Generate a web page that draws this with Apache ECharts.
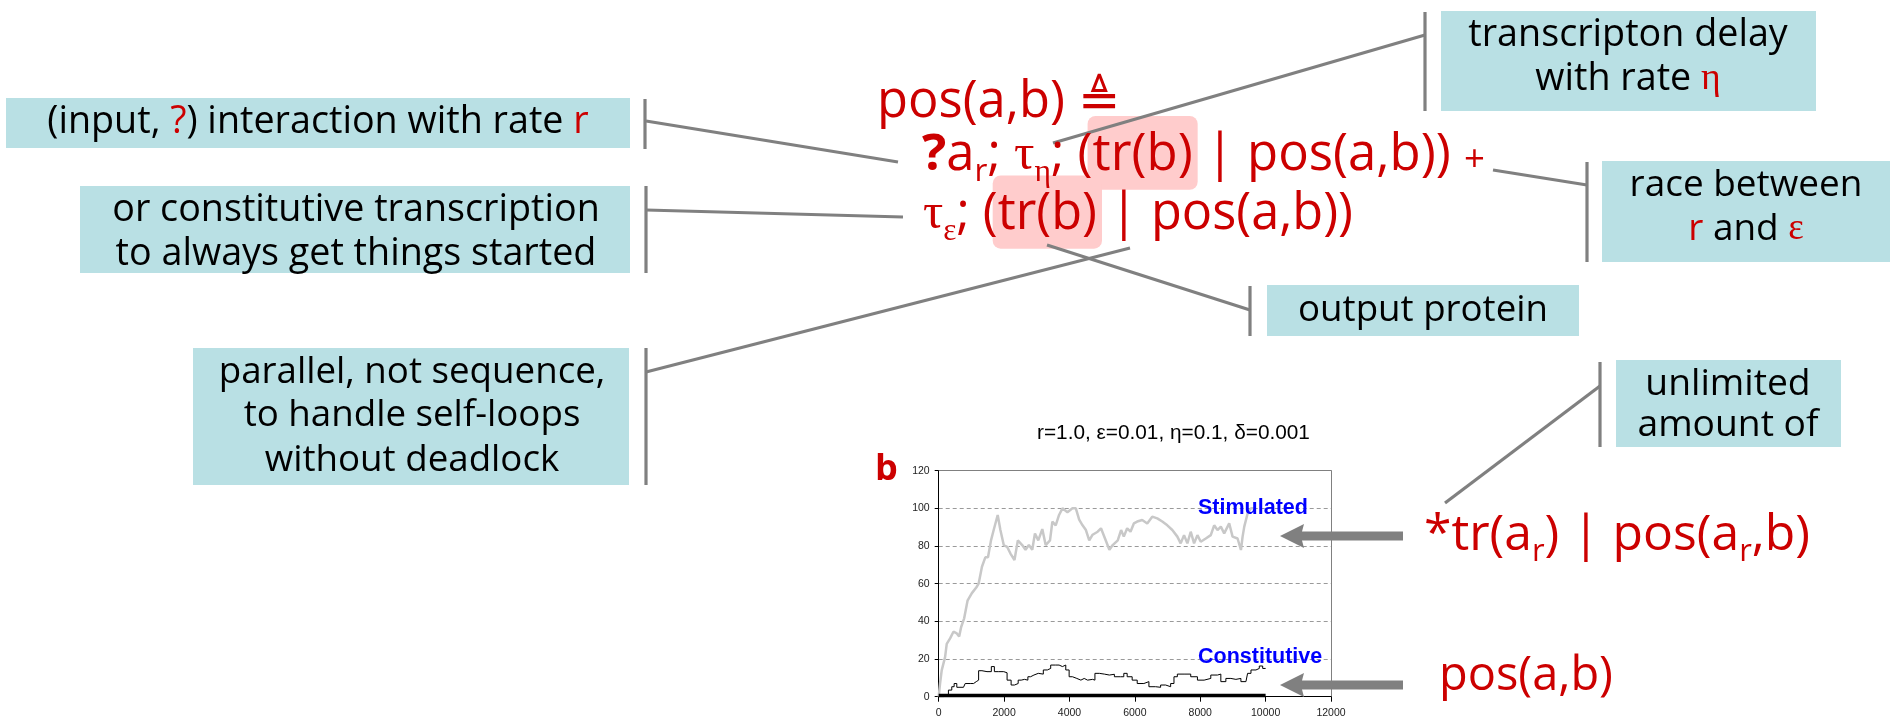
<!DOCTYPE html>
<html><head><meta charset="utf-8">
<script src="https://cdn.jsdelivr.net/npm/echarts@6/dist/echarts.min.js"></script>
<style>html,body{margin:0;padding:0;background:#fff}#c{width:1899px;height:722px}</style>
</head><body><div id="c"></div>
<script>
// ---------------- data ----------------
const stimulatedData = [[0,0],[41,7],[92,14],[195,21],[246,28],[349,31],[451,34.5],[554,33.6],[626,32],[687,37],[779,41.6],[882,51],[1015,55],[1149,58],[1221,60],[1323,69],[1426,74],[1508,74],[1600,83],[1682,88.5],[1805,96.5],[1887,88.5],[1990,80.5],[2092,79.6],[2195,76],[2318,72.6],[2421,83],[2554,80.5],[2656,78],[2759,80.5],[2862,78],[2944,86.7],[3046,83],[3169,89],[3272,80.5],[3405,83],[3477,93],[3579,91],[3682,96.5],[3785,100],[3938,98],[4092,100],[4195,100],[4297,94],[4400,91],[4503,88.5],[4605,83],[4708,86],[4862,87.6],[4964,89.4],[5087,84],[5221,78],[5323,80.5],[5477,83],[5579,88.5],[5662,85],[5765,89.4],[5867,87.6],[5969,92],[6072,93],[6225,93.8],[6379,92],[6532,95.6],[6686,94.7],[6839,93],[6993,91],[7146,88.5],[7300,85],[7402,81.4],[7505,85.8],[7607,81.4],[7709,87.6],[7812,81.4],[7914,85.8],[8016,82.3],[8170,84],[8323,85.8],[8426,91],[8528,88.5],[8630,90.3],[8733,86.7],[8886,92],[8989,85],[9142,84],[9245,77.9],[9296,85],[9347,90.3],[9449,97.3],[9552,100],[9700,100]];
const constitutiveData = [[0,0],[144,1],[297,3.5],[400,5.3],[472,7],[554,5],[759,5],[810,7],[964,7],[1067,8],[1149,8.8],[1221,13.8],[1323,13.3],[1477,13.3],[1610,16],[1703,13.3],[1836,13.3],[1990,12.7],[2092,8.8],[2215,6.2],[2318,7],[2431,8.8],[2523,9.2],[2626,8.8],[2728,10.6],[2810,11.5],[2913,12.4],[3046,12],[3200,14.2],[3323,15],[3426,16.8],[3579,16.8],[3682,16],[3785,16.8],[3887,14.2],[3990,10.6],[4092,9.7],[4226,8.8],[4349,9.7],[4451,8.8],[4554,9.2],[4708,8.8],[4779,12.4],[4913,12],[5067,11.5],[5221,11.9],[5374,10.6],[5560,10.6],[5662,12.4],[5765,10.6],[5918,8.8],[6072,7],[6276,8],[6430,5.3],[6635,5],[6788,6.2],[6942,5.3],[7095,7],[7197,10.6],[7300,12],[7505,12],[7709,10.6],[7914,8.8],[8119,9.7],[8323,11.5],[8528,12],[8630,8],[8784,9.7],[8937,9.2],[9091,9.7],[9244,8],[9398,8.8],[9449,12.4],[9552,14.2],[9705,15],[9807,16.3],[9910,15],[10000,15]];
const baselineData = [[0,0.7],[10000,0.7]];
const xRange = [0, 12000, 2000];
const yRange = [0, 120, 20];
const chartTitle = 'r=1.0, ε=0.01, η=0.1, δ=0.001';
const seriesNames = ['Stimulated', 'Constitutive'];

// ---------------- styling helpers ----------------
const RED = '#cc0000', BOX = '#b9e0e4', GREY = '#808080', HL = '#ffcccc';
const SANS = '"Open Sans", "DejaVu Sans"', SERIF = '"Liberation Serif"', ARIAL = '"Liberation Sans"';
const ctx = document.createElement('canvas').getContext('2d');
function measure(t, size, fam, w) { ctx.font = (w || 'normal') + ' ' + size + 'px ' + fam; return ctx.measureText(t).width; }
const graphics = [];
function addText(x, bl, t, size, fam, fill, w, z) {
  graphics.push({ type: 'text', x: x, y: bl - 0.345 * size, z: z || 20, silent: true,
    style: { text: t, font: (w || 'normal') + ' ' + size + 'px ' + fam, fill: fill || '#000', textAlign: 'left', textVerticalAlign: 'middle' } });
}
function segSize(s, S) { return s.sub ? S * 0.62 : (s.small ? S * 0.72 : S); }
function segW(s, S) { return measure(s.t, segSize(s, S), s.f || SANS, s.w); }
function lineW(segs, S) { return segs.reduce((a, s) => a + segW(s, S), 0); }
function fit(lines, nominal, lo, hi) {
  let k = 0; lines.forEach(l => { k += l.w / lineW(l.segs, nominal); }); k /= lines.length;
  k = Math.max(lo || 0.75, Math.min(hi || 1.3, k)); return nominal * k;
}
function place(segs, x0, bl, S, fill) {
  let x = x0;
  segs.forEach(s => {
    const size = segSize(s, S), w = segW(s, S);
    const b = bl + (s.sub ? 0.2 * S : 0);
    if (s.hl) graphics.push({ type: 'rect', z: 5, silent: true, shape: { x: x - 5, y: bl - 1.12 * S, width: w + 10, height: 1.45 * S, r: 8 }, style: { fill: HL } });
    addText(x, b, s.t, size, s.f || SANS, s.c || fill, s.w);
    x += w;
  });
}
function S(t, o) { return Object.assign({ t: t }, o || {}); }
function rect(x, y, w, h, fill, z) { graphics.push({ type: 'rect', z: z || 1, silent: true, shape: { x: x, y: y, width: w, height: h }, style: { fill: fill } }); }
function seg(x1, y1, x2, y2, wdt, z) { graphics.push({ type: 'line', z: z || 8, silent: true, shape: { x1: x1, y1: y1, x2: x2, y2: y2 }, style: { stroke: GREY, lineWidth: wdt || 3.2 } }); }

// ---------------- annotation boxes ----------------
const boxes = [
  { r: [6, 98, 624, 50], bar: [645, 99, 149], cx: 318, lines: [{ segs: [S('(input, '), S('?', { c: RED }), S(') interaction with rate '), S('r', { c: RED })], bl: 135, w: 558 }] },
  { r: [80, 186, 550, 87], bar: [646, 186, 273], cx: 356, lines: [{ segs: [S('or constitutive transcription')], bl: 223, w: 494 }, { segs: [S('to always get things started')], bl: 267, w: 488 }] },
  { r: [193, 348, 436, 137], bar: [646, 348, 485], cx: 412, lines: [{ segs: [S('parallel, not sequence,')], bl: 385, w: 384 }, { segs: [S('to handle self-loops')], bl: 428, w: 342 }, { segs: [S('without deadlock')], bl: 473, w: 292 }] },
  { r: [1441, 11, 375, 100], bar: [1425, 12, 111], cx: 1628, lines: [{ segs: [S('transcripton delay')], bl: 48, w: 318 }, { segs: [S('with rate '), S('η', { c: RED, f: SERIF })], bl: 92, w: 191 }] },
  { r: [1602, 161, 288, 101], bar: [1587, 162, 262], cx: 1746, lines: [{ segs: [S('race between')], bl: 198, w: 230 }, { segs: [S('r', { c: RED }), S(' and '), S('ε', { c: RED, f: SERIF })], bl: 242, w: 117 }] },
  { r: [1267, 285, 312, 51], bar: [1250, 286, 336], cx: 1423, lines: [{ segs: [S('output protein')], bl: 323, w: 250 }] },
  { r: [1616, 360, 225, 87], bar: [1600, 362, 447], cx: 1728, lines: [{ segs: [S('unlimited')], bl: 397, w: 160 }, { segs: [S('amount of')], bl: 438, w: 187 }] }
];
boxes.forEach(b => {
  rect(b.r[0], b.r[1], b.r[2], b.r[3], BOX);
  seg(b.bar[0], b.bar[1], b.bar[0], b.bar[2], 3.2);
  const size = fit(b.lines, 29);
  b.lines.forEach(l => place(l.segs, b.cx - lineW(l.segs, size) / 2, l.bl, size, '#000'));
});
// connectors
seg(646, 121, 898, 162);
seg(646, 210, 903, 217);
seg(646, 372, 1130, 248);
seg(1425, 35, 1053, 143);
seg(1587, 185, 1493, 170);
seg(1250, 310, 1047, 245);
seg(1600, 386, 1445, 503);

// ---------------- formula ----------------
const F = [
  { segs: [S('?', { w: 'bold' }), S('a'), S('r', { sub: true }), S('; '), S('τ', { f: SERIF }), S('η', { f: SERIF, sub: true }), S('; ('), S('tr(b)', { hl: true }), S(' | pos(a,b)) '), S('+', { small: true })], x: 922, bl: 173, w: 563 },
  { segs: [S('τ', { f: SERIF }), S('ε', { f: SERIF, sub: true }), S('; ('), S('tr(b)', { hl: true }), S(' | pos(a,b))')], x: 923, bl: 232, w: 430 },
  { segs: [S('*tr(a'), S('r', { sub: true }), S(') | pos(a'), S('r', { sub: true }), S(',b)')], x: 1424, bl: 553, w: 386, n: 50 },
  { segs: [S('pos(a,b)')], x: 1439, bl: 693, w: 174, n: 50 }
];
const sizes = F.map(l => fit([l], l.n || 44, 0.85, 1.2));
F.forEach((l, i) => place(l.segs, l.x, l.bl, sizes[i], RED));
// heading line uses the same size as the body lines
place([S('pos(a,b) '), S('≜')], 877, 120, (sizes[0] + sizes[1]) / 2, RED);

// arrows
function arrow(tipX, y, len) {
  graphics.push({ type: 'polygon', z: 30, silent: true, shape: { points: [[tipX, y], [tipX + 24, y - 12], [tipX + 22, y - 4.5], [tipX + len, y - 4.5], [tipX + len, y + 4.5], [tipX + 22, y + 4.5], [tipX + 24, y + 12]] }, style: { fill: GREY } });
}
arrow(1280, 536, 123);
arrow(1280, 685, 123);

// chart texts
addText(875, 482, 'b', 36, SANS, RED, 'bold');
const tSize = 16 * 273 / measure(chartTitle, 16, ARIAL);
addText(1037, 440, chartTitle, tSize, ARIAL, '#000');
const lSize = (17 * 112 / measure(seriesNames[0], 17, ARIAL, 'bold') + 17 * 122 / measure(seriesNames[1], 17, ARIAL, 'bold')) / 2;
addText(1198, 515, seriesNames[0], lSize, ARIAL, '#0000ff', 'bold', 40);
addText(1198, 664, seriesNames[1], lSize, ARIAL, '#0000ff', 'bold', 40);

// ---------------- chart ----------------
const chart = echarts.init(document.getElementById('c'), null, { renderer: 'canvas' });
const axisFont = { fontSize: 10.5, color: '#222', fontFamily: 'Liberation Sans', formatter: v => String(v) };
chart.setOption({
  animation: false,
  backgroundColor: '#fff',
  grid: { left: 938.7, top: 470.7, width: 392.3, height: 226, containLabel: false },
  xAxis: [
    { type: 'value', min: xRange[0], max: xRange[1], interval: xRange[2], position: 'bottom',
      axisLine: { show: true, onZero: false, lineStyle: { color: '#000', width: 1 } },
      axisTick: { show: true, length: 5, lineStyle: { color: '#000' } },
      axisLabel: Object.assign({ margin: 11 }, axisFont), splitLine: { show: false } },
    { type: 'value', min: xRange[0], max: xRange[1], interval: xRange[2], position: 'top',
      axisLine: { show: true, onZero: false, lineStyle: { color: '#808080', width: 1 } }, axisTick: { show: false }, axisLabel: { show: false }, splitLine: { show: false } }
  ],
  yAxis: [
    { type: 'value', min: yRange[0], max: yRange[1], interval: yRange[2], position: 'left',
      axisLine: { show: true, onZero: false, lineStyle: { color: '#000', width: 1 } },
      axisTick: { show: true, length: 4, lineStyle: { color: '#000' } },
      axisLabel: Object.assign({ margin: 9 }, axisFont),
      splitLine: { show: true, lineStyle: { color: '#9a9a9a', type: [4, 3], width: 1 } } },
    { type: 'value', min: yRange[0], max: yRange[1], interval: yRange[2], position: 'right',
      axisLine: { show: true, onZero: false, lineStyle: { color: '#808080', width: 1 } }, axisTick: { show: false }, axisLabel: { show: false }, splitLine: { show: false } }
  ],
  series: [
    { name: seriesNames[0], type: 'line', data: stimulatedData, showSymbol: false, silent: true, z: 3,
      lineStyle: { color: '#c8c8c8', width: 2.5 } },
    { name: seriesNames[1], type: 'line', data: constitutiveData, showSymbol: false, silent: true, z: 4, step: 'end',
      lineStyle: { color: '#000', width: 1 } },
    { name: 'baseline', type: 'line', data: baselineData, showSymbol: false, silent: true, z: 5,
      lineStyle: { color: '#000', width: 3.5 } }
  ],
  graphic: { elements: graphics }
});
</script>
</body></html>
